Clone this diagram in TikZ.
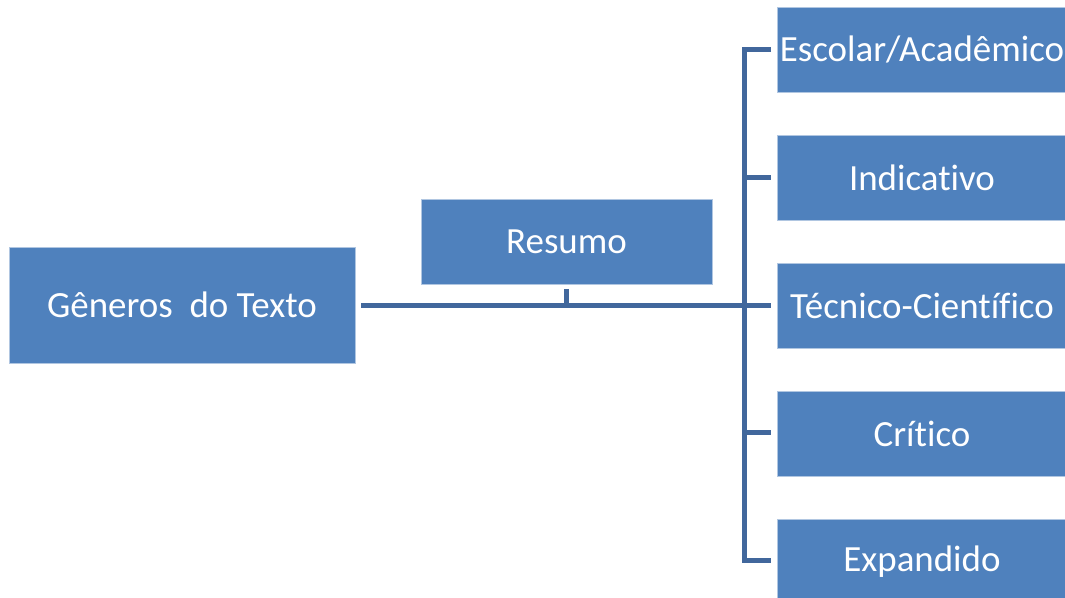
\documentclass[tikz,border=0pt]{standalone}
\usepackage{fontspec}
\setmainfont{Carlito}[Ligatures={NoCommon}]
\usetikzlibrary{calc}
\definecolor{boxblue}{HTML}{4F81BD}
\definecolor{lineblue}{HTML}{41679C}
\begin{document}
\begin{tikzpicture}[x=0.75pt,y=-0.75pt,
  box/.style={rectangle, fill=boxblue, draw=white!55!boxblue, line width=0.6pt,
    text=white, inner sep=0pt, font=\fontsize{27.7pt}{32pt}\selectfont},
  rbox/.style={box, minimum width=217.5pt, minimum height=63.75pt},
  conn/.style={draw=lineblue, line width=3.75pt, line join=miter, line cap=butt}]
\useasboundingbox (0,0) rectangle (1065,598);
\clip (0,0) rectangle (1065,598);
\node[box, minimum width=259.5pt, minimum height=87pt] (gen) at (182,305) {Gêneros\ \ do Texto};
\node[box, minimum width=218.25pt, minimum height=63.75pt] (res) at (566.5,241.5) {Resumo};
\node[rbox] (esc) at (922,49.5) {Escolar/Acadêmico};
\node[rbox] (ind) at (922,177.5) {Indicativo};
\node[rbox] (tec) at (922,305.5) {Técnico-Científico};
\node[rbox] (cri) at (922,433.5) {Crítico};
\node[rbox] (exp) at (922,561.5) {Expandido};
% main horizontal line
\coordinate (g1) at (361,306);
\coordinate (t3) at (771,306);
\coordinate (rt) at (566,289);
\coordinate (rb) at (566,306);
\draw[conn] (g1) -- (t3);
\draw[conn] (rt) -- (rb);
% bracket
\coordinate (e1) at (771,50);
\coordinate (e2) at (771,178);
\coordinate (e4) at (771,433);
\coordinate (e5) at (771,561);
\coordinate (v1) at (744,50);
\coordinate (v5) at (744,561);
\draw[conn] (e1) -- (v1) -- (v5) -- (e5);
\draw[conn] (744,178) -- (e2);
\draw[conn] (744,433) -- (e4);
\end{tikzpicture}
\end{document}
